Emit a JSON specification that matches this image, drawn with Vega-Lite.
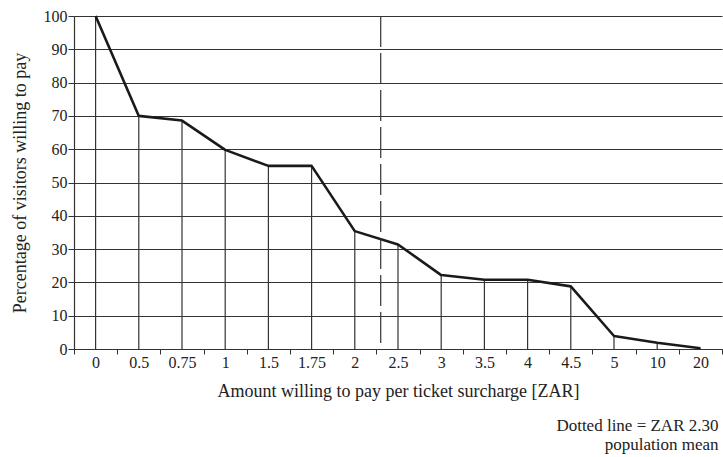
{
  "$schema": "https://vega.github.io/schema/vega-lite/v6.json",
  "width": 648,
  "height": 333,
  "autosize": "none",
  "padding": {"left": 74, "top": 16, "right": 1, "bottom": 108},
  "background": "white",
  "config": {
    "font": "'Liberation Serif', 'DejaVu Serif', serif",
    "view": {"stroke": null},
    "axis": {
      "labelFont": "'Liberation Serif', 'DejaVu Serif', serif",
      "titleFont": "'Liberation Serif', 'DejaVu Serif', serif",
      "labelColor": "#222",
      "titleColor": "#222",
      "labelFontSize": 16,
      "titleFontSize": 18,
      "titleFontWeight": "normal",
      "domainColor": "#333",
      "tickColor": "#333",
      "gridColor": "#333",
      "gridOpacity": 1,
      "gridWidth": 1,
      "domainWidth": 1.2,
      "tickWidth": 1
    }
  },
  "title": {
    "text": ["Dotted line = ZAR 2.30", "population mean"],
    "orient": "bottom",
    "anchor": "end",
    "align": "right",
    "font": "'Liberation Serif', 'DejaVu Serif', serif",
    "fontSize": 17,
    "fontWeight": "normal",
    "color": "#222",
    "offset": 18,
    "lineHeight": 19,
    "dx": -4
  },
  "datasets": {
    "main": [
      {"amount": "0", "pct": 100},
      {"amount": "0.5", "pct": 70},
      {"amount": "0.75", "pct": 68.6},
      {"amount": "1", "pct": 59.8},
      {"amount": "1.5", "pct": 55},
      {"amount": "1.75", "pct": 55},
      {"amount": "2", "pct": 35.4},
      {"amount": "2.5", "pct": 31.4},
      {"amount": "3", "pct": 22.2},
      {"amount": "3.5", "pct": 20.8},
      {"amount": "4", "pct": 20.8},
      {"amount": "4.5", "pct": 18.8},
      {"amount": "5", "pct": 3.9},
      {"amount": "10", "pct": 1.9},
      {"amount": "20", "pct": 0.2}
    ],
    "mean": [{"mean": 2.3}]
  },
  "layer": [
    {
      "data": {"name": "main"},
      "mark": {"type": "rule", "color": "#333", "strokeWidth": 1.2},
      "encoding": {
        "x": {
          "field": "amount",
          "type": "ordinal",
          "sort": null,
          "scale": {"type": "band", "paddingInner": 0, "paddingOuter": 0},
          "axis": {
            "title": "Amount willing to pay per ticket surcharge [ZAR]",
            "labelAngle": 0,
            "tickBand": "extent",
            "tickSize": 5,
            "labelPadding": 0,
            "titlePadding": 12,
            "grid": false
          }
        },
        "y": {
          "field": "pct",
          "type": "quantitative",
          "scale": {"domain": [0, 100], "nice": false},
          "axis": {
            "title": "Percentage of visitors willing to pay",
            "values": [0, 10, 20, 30, 40, 50, 60, 70, 80, 90, 100],
            "labelOverlap": false,
            "grid": true,
            "tickSize": 6,
            "labelPadding": 1,
            "titlePadding": 14
          }
        },
        "y2": {"datum": 0}
      }
    },
    {
      "data": {"name": "main"},
      "mark": {"type": "line", "color": "#1a1a1a", "strokeWidth": 2.6, "strokeJoin": "round"},
      "encoding": {
        "x": {
          "field": "amount",
          "type": "ordinal",
          "sort": null,
          "scale": {"type": "band", "paddingInner": 0, "paddingOuter": 0},
          "axis": null
        },
        "y": {
          "field": "pct",
          "type": "quantitative",
          "scale": {"domain": [0, 100], "nice": false},
          "axis": {
            "title": "Percentage of visitors willing to pay",
            "values": [0, 10, 20, 30, 40, 50, 60, 70, 80, 90, 100],
            "labelOverlap": false,
            "grid": true,
            "tickSize": 6,
            "labelPadding": 1,
            "titlePadding": 14
          }
        }
      }
    },
    {
      "data": {"name": "mean"},
      "mark": {"type": "rule", "color": "#333", "strokeWidth": 1.2, "strokeDash": [31, 6]},
      "encoding": {
        "x": {
          "field": "mean",
          "type": "quantitative",
          "scale": {"domain": [-1.25, 6.25], "nice": false, "zero": false},
          "axis": null
        }
      }
    }
  ],
  "resolve": {"scale": {"x": "independent"}}
}
